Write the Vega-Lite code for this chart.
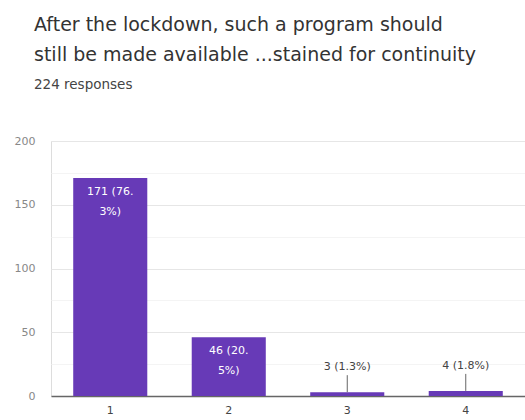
{
  "$schema": "https://vega.github.io/schema/vega-lite/v6.json",
  "autosize": "none",
  "width": 474,
  "height": 255,
  "padding": {"left": 51, "top": 141, "right": 0, "bottom": 24},
  "background": "white",
  "title": {
    "text": ["After the lockdown, such a program should", "still be made available ...stained for continuity"],
    "subtitle": "224 responses",
    "anchor": "start",
    "frame": "group",
    "dx": -17,
    "offset": 44,
    "font": "DejaVu Sans",
    "fontSize": 19,
    "fontWeight": "normal",
    "color": "#333333",
    "lineHeight": 30,
    "subtitleFont": "DejaVu Sans",
    "subtitleFontSize": 13.5,
    "subtitleColor": "#444444",
    "subtitlePadding": 13
  },
  "data": {
    "values": [
      {"option": "1", "count": 171, "label": "171 (76.\n3%)"},
      {"option": "2", "count": 46, "label": "46 (20.\n5%)"},
      {"option": "3", "count": 3, "label": "3 (1.3%)"},
      {"option": "4", "count": 4, "label": "4 (1.8%)"}
    ]
  },
  "encoding": {
    "x": {
      "field": "option",
      "type": "nominal",
      "sort": null,
      "scale": {"paddingInner": 0.375, "paddingOuter": 0.1875},
      "axis": {
        "title": null,
        "labelAngle": 0,
        "labelFont": "DejaVu Sans",
        "labelFontSize": 11,
        "labelColor": "#444444",
        "ticks": false,
        "domainColor": "#666666",
        "domainWidth": 1.5,
        "labelPadding": 8
      }
    },
    "y": {
      "field": "count",
      "type": "quantitative",
      "scale": {"domain": [0, 200], "nice": false},
      "axis": {
        "title": null,
        "values": [0, 25, 50, 75, 100, 125, 150, 175, 200],
        "labelExpr": "datum.value % 50 === 0 ? datum.label : ''",
        "labelFont": "DejaVu Sans",
        "labelFontSize": 11,
        "labelColor": "#888888",
        "labelPadding": 16,
        "ticks": false,
        "domain": false,
        "gridColor": {"condition": {"test": "datum.value % 50 === 0", "value": "#e6e6e6"}, "value": "#f4f4f4"}
      }
    }
  },
  "layer": [
    {"mark": {"type": "bar", "color": "#673ab7"}},
    {
      "transform": [{"filter": "datum.count > 20"}],
      "mark": {"type": "text", "baseline": "middle", "dy": 14, "lineBreak": "\n", "lineHeight": 20, "font": "DejaVu Sans", "fontSize": 11, "color": "white"},
      "encoding": {"text": {"field": "label"}}
    },
    {
      "transform": [{"filter": "datum.count <= 20"}],
      "mark": {"type": "text", "baseline": "middle", "dy": -25, "font": "DejaVu Sans", "fontSize": 11, "color": "#444444"},
      "encoding": {"text": {"field": "label"}}
    },
    {
      "transform": [{"filter": "datum.count <= 20"}],
      "mark": {"type": "rule", "color": "#666666", "strokeWidth": 1, "y2Offset": -17},
      "encoding": {"y2": {"field": "count"}}
    }
  ]
}
